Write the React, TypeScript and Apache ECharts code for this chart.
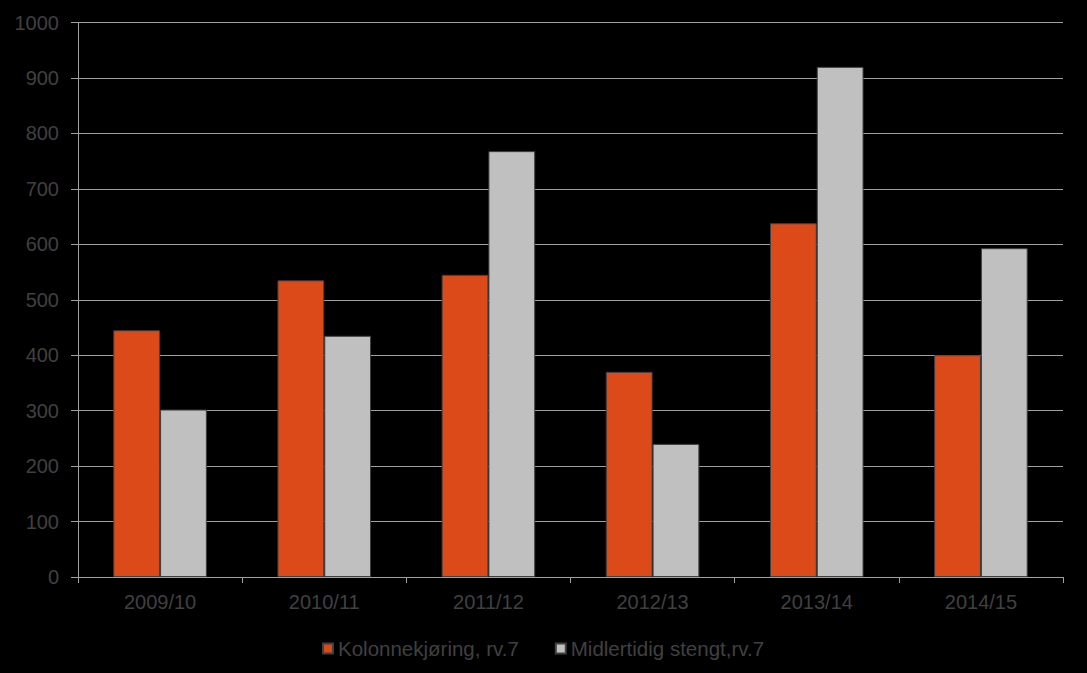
import React, { useEffect, useRef } from "react";
import * as echarts from "echarts";

const categories = ["2009/10", "2010/11", "2011/12", "2012/13", "2013/14", "2014/15"];
const kolonne = [445, 535, 545, 370, 638, 400];
const stengt = [302, 435, 768, 240, 920, 593];
const seriesNames = ["Kolonnekjøring, rv.7", "Midlertidig stengt,rv.7"];

export default function App() {
  const ref = useRef<HTMLDivElement>(null);
  useEffect(() => {
    const chart = echarts.init(ref.current!, null, { renderer: "svg" });
    const font = "Liberation Sans, Arial, sans-serif";
    chart.setOption({
      animation: false,
      backgroundColor: "#000000",
      grid: { left: 78, right: 24, top: 22.5, bottom: 96, containLabel: false },
      legend: {
        left: 317,
        top: 633,
        itemWidth: 10,
        itemHeight: 10,
        itemGap: 36,
        icon: "rect",
        textStyle: { color: "#404040", fontSize: 20.5, fontFamily: font },
        data: seriesNames,
      },
      xAxis: {
        type: "category",
        data: categories,
        axisLine: { lineStyle: { color: "#a0a0a0", width: 1 } },
        axisTick: { show: true, length: 6, lineStyle: { color: "#a0a0a0" } },
        axisLabel: { color: "#404040", fontSize: 20, fontFamily: font, margin: 15 },
      },
      yAxis: {
        type: "value",
        min: 0,
        max: 1000,
        interval: 100,
        axisLine: { show: true, lineStyle: { color: "#a0a0a0", width: 1 } },
        axisTick: { show: true, length: 7, lineStyle: { color: "#a0a0a0" } },
        axisLabel: {
          color: "#404040",
          fontSize: 20,
          fontFamily: font,
          margin: 19,
          formatter: (v: number) => String(v),
        },
        splitLine: { lineStyle: { color: "#a0a0a0", width: 1 } },
      },
      series: [
        {
          name: seriesNames[0],
          type: "bar",
          data: kolonne,
          barGap: "0%",
          barCategoryGap: "43%",
          itemStyle: { color: "#dd4a19", borderColor: "#404040", borderWidth: 1 },
        },
        {
          name: seriesNames[1],
          type: "bar",
          data: stengt,
          barGap: "0%",
          barCategoryGap: "43%",
          itemStyle: { color: "#c0c0c0", borderColor: "#404040", borderWidth: 1 },
        },
      ],
    });
    return () => chart.dispose();
  }, []);
  return (
    <div
      ref={ref}
      style={{ position: "absolute", left: 0, top: 0, width: 1087, height: 673, background: "#000" }}
    />
  );
}
